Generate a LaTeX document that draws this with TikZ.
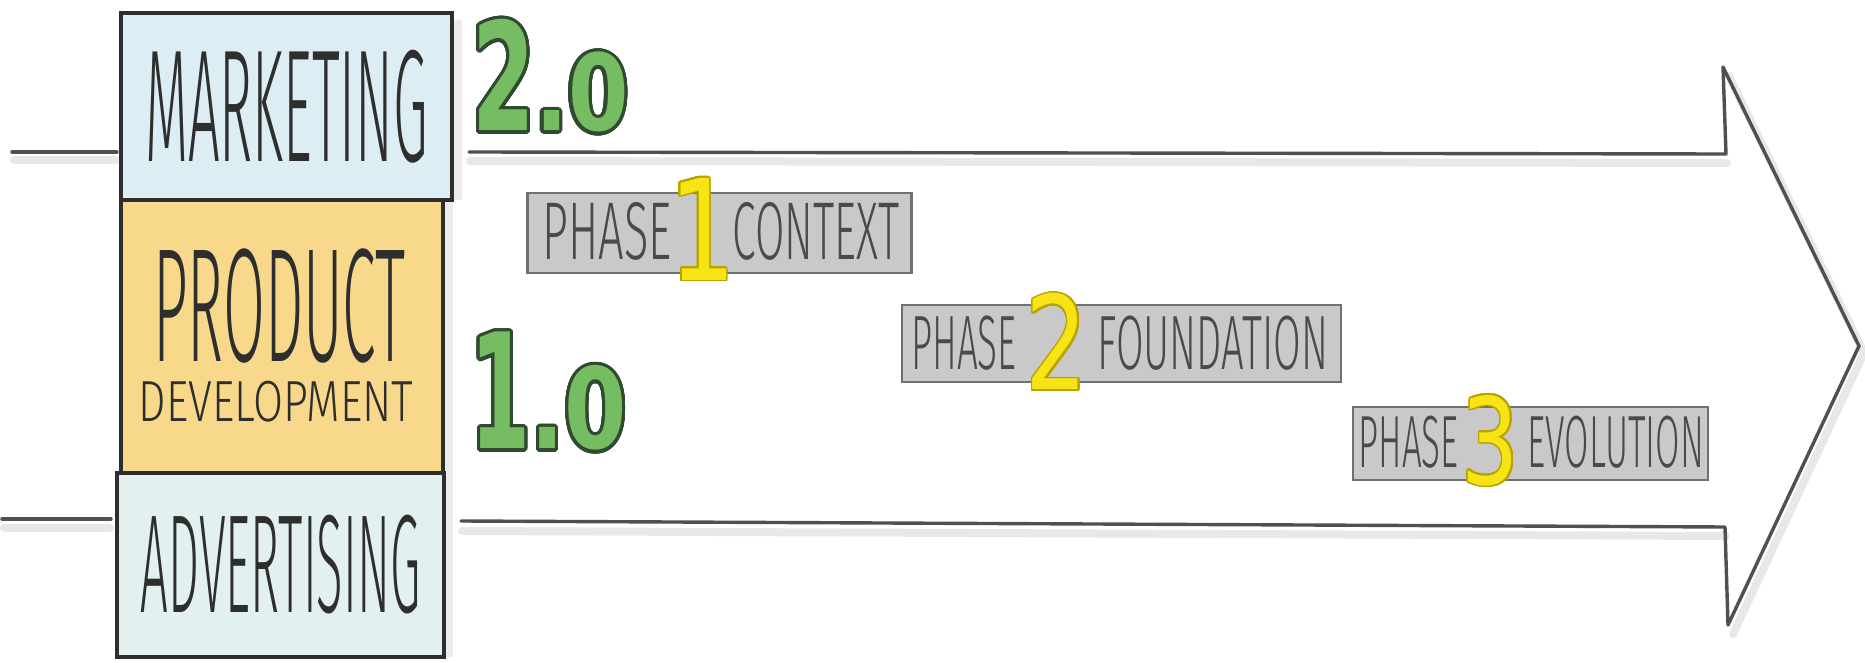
\documentclass[tikz,border=0pt]{standalone}
\usepackage{fontspec}
\usepackage{xcolor}
\usepackage{contour}
\usetikzlibrary{positioning}

\newfontfamily\handfont[FakeStretch=0.35]{Fira Sans Light}
\newfontfamily\smallhand[FakeStretch=0.75]{Fira Sans Light}
\newfontfamily\phasefont[FakeStretch=0.52]{Fira Sans Light}
\newfontfamily\digitfont[FakeStretch=0.75]{DejaVu Sans}
\newfontfamily\versionfont{DejaVu Sans}

\definecolor{mktblue}{HTML}{DDEDF4}
\definecolor{prodorange}{HTML}{F8D88A}
\definecolor{advcyan}{HTML}{E2F0F0}
\definecolor{phasegray}{HTML}{C9C9C9}
\definecolor{phaseedge}{HTML}{707070}
\definecolor{phaseink}{HTML}{4A4A4A}
\definecolor{inkgray}{HTML}{2E2E2E}
\definecolor{linegray}{HTML}{505050}
\definecolor{leafgreen}{HTML}{76BC62}
\definecolor{darkgreen}{HTML}{2F4A2F}
\definecolor{sunyellow}{HTML}{F7E414}
\definecolor{darkyellow}{HTML}{B9A300}

\contournumber{32}

\tikzset{
  box/.style={draw=inkgray, line width=2pt, inner sep=0pt, text=inkgray},
  boxtext/.style={inner sep=0pt, text=inkgray},
  phasebox/.style={draw=phaseedge, fill=phasegray, line width=1.2pt, inner sep=0pt},
  phasetext/.style={inner sep=0pt, text=phaseink},
  digit/.style={inner sep=0pt, text=sunyellow, font=\digitfont\fontsize{70}{70}\selectfont},
  version/.style={inner sep=0pt, text=leafgreen, font=\versionfont\bfseries},
  outline/.style={draw=linegray, line width=1.7pt, line join=round, line cap=round},
  shade/.style={draw=gray!18, line width=4pt, line cap=round, line join=round},
}

\begin{document}
\begin{tikzpicture}[x=0.5pt, y=-0.5pt]
\useasboundingbox (0,0) rectangle (1865,663);

% soft shadow under the big arrow
\draw[shade] (470,161) -- (1727,163);
\draw[shade] (1729,76) -- (1864,353) -- (1733,634);
\draw[shade] (462,531) -- (1726,536);
\draw[shade] (4,528) -- (110,528);
\draw[shade] (14,160) -- (116,160);

% big arrow
\draw[outline] (469,152) -- (1726,154) -- (1723,67) -- (1859,346) -- (1728,625) -- (1725,527) -- (461,521);
\draw[outline] (12,152) -- (117,152);
\draw[outline] (2,519) -- (111,519);

% shadow right of the left column
\fill[gray!15] (452,20) rectangle (462,200);
\fill[gray!15] (443,200) rectangle (453,657);

% left column
\node[box, fill=prodorange, minimum width=161pt, minimum height=136.5pt] (prod) at (282,336.5) {};
\node[box, fill=mktblue, minimum width=165.5pt, minimum height=93.5pt,
      font=\handfont\fontsize{80}{80}\selectfont] (mkt) at (286.5,106.5) {MARKETING};
\node[box, fill=advcyan, minimum width=163.5pt, minimum height=92pt,
      font=\handfont\fontsize{70}{70}\selectfont] (adv) at (280.5,565) {ADVERTISING};
\node[boxtext, font=\handfont\fontsize{81}{81}\selectfont] (prodtext) at (279.5,306) {\scalebox{1.07}[1]{PRODUCT}};
\node[boxtext, font=\smallhand\fontsize{29}{29}\selectfont] (devtext) at (276,402) {DEVELOPMENT};

% version numbers
\contourlength{1.6pt}
\node[version, anchor=base west] (v2) at (472,131)
  {\contour{darkgreen}{\fontsize{75}{75}\selectfont\scalebox{0.6}[1]{2}\fontsize{53}{53}\selectfont\scalebox{0.82}[1]{.0}}};
\node[version, anchor=base west] (v1) at (470,449)
  {\contour{darkgreen}{\fontsize{80}{80}\selectfont\scalebox{0.54}[1]{1}\fontsize{56}{56}\selectfont\scalebox{0.8}[1]{.0}}};

% phase boxes
\node[phasebox, minimum width=192pt, minimum height=40pt] (p1) at (719.5,233) {};
\node[phasebox, minimum width=219.5pt, minimum height=38.5pt] (p2) at (1121.5,343.5) {};
\node[phasebox, minimum width=177.5pt, minimum height=36.5pt] (p3) at (1530.5,443.5) {};

\node[phasetext, anchor=east, font=\phasefont\fontsize{41}{41}\selectfont] (ph1) at (672,231) {\scalebox{1.06}[1]{PHASE}};
\node[phasetext, anchor=west, font=\phasefont\fontsize{41}{41}\selectfont] (ctx) at (732,231) {CONTEXT};
\node[phasetext, anchor=east, font=\phasefont\fontsize{38.5}{38.5}\selectfont] (ph2) at (1017,343) {\scalebox{0.92}[1]{PHASE}};
\node[phasetext, anchor=west, font=\phasefont\fontsize{38.5}{38.5}\selectfont] (fnd) at (1097,343) {FOUNDATION};
\node[phasetext, anchor=east, font=\phasefont\fontsize{37}{37}\selectfont] (ph3) at (1459,442.5) {\scalebox{0.91}[1]{PHASE}};
\node[phasetext, anchor=west, font=\phasefont\fontsize{37}{37}\selectfont] (evo) at (1527,442.5) {\scalebox{0.92}[1]{EVOLUTION}};

% yellow phase digits
\contourlength{0.8pt}
\node[digit] (d1) at (702.5,230) {\contour{darkyellow}{1}};
\node[digit, font=\digitfont\fontsize{65}{65}\selectfont] (d2) at (1057,342.5) {\contour{darkyellow}{2}};
\node[digit, font=\digitfont\fontsize{60}{60}\selectfont] (d3) at (1490.5,441.5) {\contour{darkyellow}{3}};

\end{tikzpicture}
\end{document}
